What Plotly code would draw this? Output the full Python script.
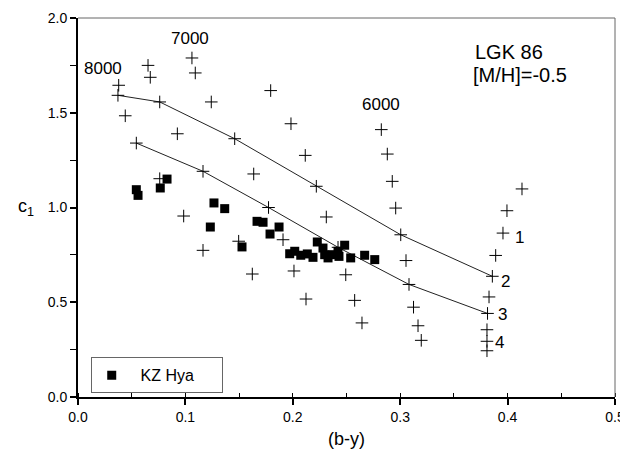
import plotly.graph_objects as go

# Model grid points (crosses)
grid_x = [0.0652, 0.0673, 0.0379, 0.0372, 0.0761, 0.0440, 0.1061, 0.1092, 0.1241, 0.0925,
          0.1459, 0.0543, 0.1794, 0.1983, 0.2116, 0.2824, 0.2880, 0.2219, 0.0761, 0.1164,
          0.1636, 0.0984, 0.1774, 0.1909, 0.1496, 0.1164, 0.1623, 0.2011, 0.2123, 0.2926,
          0.2958, 0.2312, 0.3005, 0.2421, 0.3054, 0.2493, 0.3082, 0.2576, 0.3124, 0.2644,
          0.3166, 0.3196, 0.4134, 0.3994, 0.3957, 0.3889, 0.3858, 0.3827, 0.3813, 0.3808,
          0.3808, 0.3808]
grid_y = [1.750, 1.687, 1.645, 1.592, 1.557, 1.484, 1.789, 1.710, 1.557, 1.389,
          1.363, 1.340, 1.617, 1.442, 1.275, 1.411, 1.282, 1.112, 1.152, 1.191,
          1.177, 0.955, 1.000, 0.830, 0.822, 0.774, 0.649, 0.665, 0.517, 1.138,
          0.997, 0.950, 0.856, 0.790, 0.720, 0.645, 0.594, 0.510, 0.474, 0.391,
          0.376, 0.299, 1.098, 0.983, 0.865, 0.747, 0.637, 0.528, 0.441, 0.355,
          0.294, 0.244]

# Two iso-gravity lines
line2_x = [0.0372, 0.0761, 0.1459, 0.2219, 0.3005, 0.3858]
line2_y = [1.592, 1.557, 1.363, 1.112, 0.856, 0.637]
line3_x = [0.0543, 0.1164, 0.1774, 0.2421, 0.3082, 0.3813]
line3_y = [1.340, 1.191, 1.000, 0.790, 0.594, 0.441]

# KZ Hya observations
kz_x = [0.0543, 0.0559, 0.0766, 0.0829, 0.1266, 0.1366, 0.1232, 0.1527, 0.1667, 0.1723,
        0.1788, 0.1872, 0.1971, 0.2018, 0.2074, 0.2135, 0.2188, 0.2228, 0.2281, 0.2297,
        0.2328, 0.2374, 0.2421, 0.2430, 0.2483, 0.2539, 0.2669, 0.2763]
kz_y = [1.094, 1.064, 1.103, 1.150, 1.024, 0.994, 0.897, 0.792, 0.927, 0.922,
        0.860, 0.897, 0.756, 0.769, 0.748, 0.755, 0.737, 0.818, 0.786, 0.751,
        0.734, 0.751, 0.769, 0.742, 0.801, 0.734, 0.748, 0.725]

temp_labels = ["8000", "7000", "6000"]
temp_x = [0.0233, 0.1043, 0.2821]
temp_y = [1.733, 1.894, 1.546]

logg_labels = ["1", "2", "3", "4"]
logg_x = [0.4115, 0.3978, 0.3948, 0.3926]
logg_y = [0.844, 0.611, 0.438, 0.285]

FONT = "Liberation Sans, Arial, sans-serif"
NB = "\u00a0"

fig = go.Figure()
fig.add_trace(go.Scatter(x=line2_x, y=line2_y, mode="lines",
                         line=dict(color="#222", width=1), showlegend=False, hoverinfo="skip"))
fig.add_trace(go.Scatter(x=line3_x, y=line3_y, mode="lines",
                         line=dict(color="#222", width=1), showlegend=False, hoverinfo="skip"))
fig.add_trace(go.Scatter(x=grid_x, y=grid_y, mode="markers", showlegend=False,
                         marker=dict(symbol="cross-thin", size=9, color="black",
                                     line=dict(color="black", width=1))))
fig.add_trace(go.Scatter(x=kz_x, y=kz_y, mode="markers", name=NB * 2 + "KZ Hya" + NB * 5,
                         marker=dict(symbol="square", size=9, color="black",
                                     line=dict(width=0))))

for t, x, y in zip(temp_labels, temp_x, temp_y):
    fig.add_annotation(x=x, y=y, text=t, showarrow=False,
                       font=dict(family=FONT, size=17, color="black"))
for t, x, y in zip(logg_labels, logg_x, logg_y):
    fig.add_annotation(x=x, y=y, text=t, showarrow=False,
                       font=dict(family=FONT, size=17, color="black"))

fig.add_annotation(x=0.3678, y=1.818, text="LGK 86", showarrow=False, xanchor="left",
                   font=dict(family=FONT, size=20, color="black"))
fig.add_annotation(x=0.3659, y=1.70, text="[M/H]=-0.5", showarrow=False, xanchor="left",
                   font=dict(family=FONT, size=20, color="black"))
fig.add_annotation(xref="paper", yref="paper", x=-0.115, y=0.5, text="c<sub>1</sub>",
                   showarrow=False, font=dict(family=FONT, size=18, color="black"))

fig.add_shape(type="line", xref="paper", yref="paper", x0=0, x1=1, y0=1, y1=1,
              line=dict(color="#666", width=1))
fig.add_shape(type="line", xref="paper", yref="paper", x0=1, x1=1, y0=0, y1=1,
              line=dict(color="#666", width=1))

fig.update_layout(
    width=628, height=451,
    margin=dict(l=70, r=21, t=10, b=62, autoexpand=False),
    paper_bgcolor="white", plot_bgcolor="white",
    font=dict(family=FONT, color="black"),
    showlegend=True,
    legend=dict(x=0.0237, y=0.1047, xanchor="left", yanchor="top",
                bordercolor="#666", borderwidth=1, bgcolor="white",
                font=dict(family=FONT, size=16, color="black")),
    xaxis=dict(range=[0, 0.5], dtick=0.1, tick0=0, tickformat=".1f", automargin=False,
               showgrid=False, zeroline=False, showline=True, linecolor="black", linewidth=2,
               ticks="outside", ticklen=6, tickwidth=1.5, tickcolor="black",
               tickfont=dict(family=FONT, size=14),
               minor=dict(dtick=0.05, ticks="inside", ticklen=4, tickcolor="black", tickwidth=1),
               title=dict(text="(b-y)", font=dict(family=FONT, size=18), standoff=9)),
    yaxis=dict(range=[0, 2], dtick=0.5, tick0=0, tickformat=".1f", automargin=False,
               showgrid=False, zeroline=False, showline=True, linecolor="black", linewidth=2,
               ticks="outside", ticklen=6, tickwidth=1.5, tickcolor="black",
               tickfont=dict(family=FONT, size=14),
               minor=dict(dtick=0.25, ticks="outside", ticklen=6, tickcolor="black", tickwidth=1)),
)

fig.write_html("out.html")
